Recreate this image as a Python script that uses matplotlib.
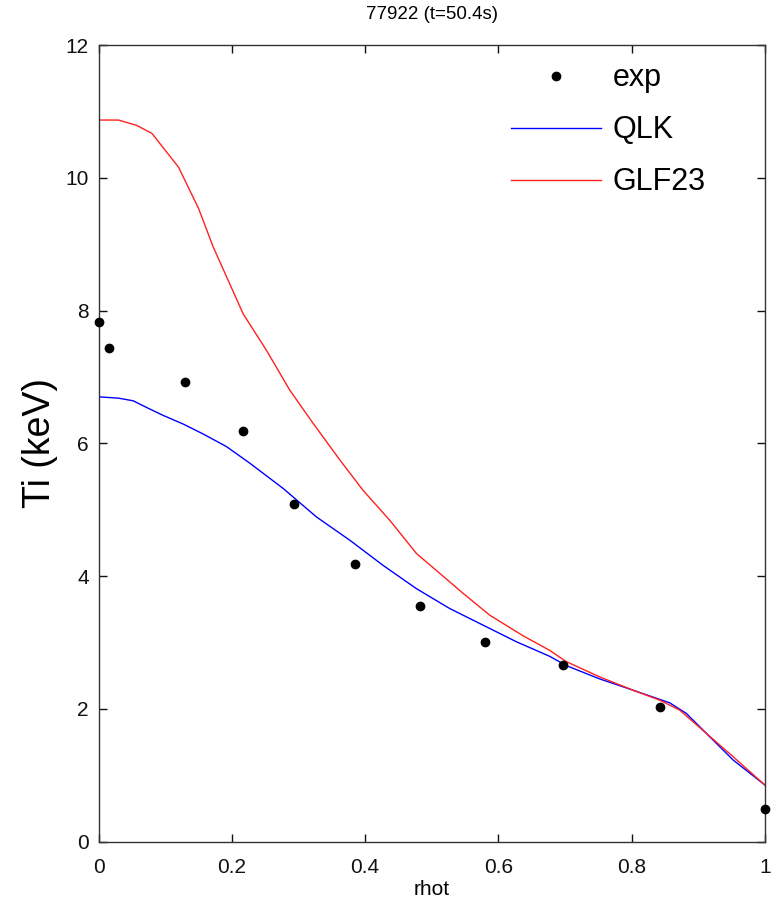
import matplotlib
matplotlib.use("Agg")
import matplotlib.pyplot as plt

plt.rcParams['font.family'] = ['Liberation Sans', 'DejaVu Sans']

# experimental points
exp_rho = [0.0, 0.016, 0.129, 0.217, 0.293, 0.385, 0.482, 0.580, 0.697, 0.843, 1.0]
exp_ti = [7.82, 7.43, 6.93, 6.19, 5.08, 4.18, 3.55, 3.00, 2.66, 2.02, 0.49]

# QLK
qlk_rho = [0.0, 0.03, 0.052, 0.072, 0.097, 0.127, 0.157, 0.192, 0.227, 0.277, 0.327,
           0.377, 0.427, 0.477, 0.527, 0.577, 0.627, 0.677, 0.702, 0.752, 0.802,
           0.857, 0.882, 0.917, 0.952, 1.0]
qlk_ti = [6.70, 6.68, 6.64, 6.54, 6.42, 6.29, 6.14, 5.95, 5.70, 5.32, 4.89,
          4.54, 4.16, 3.81, 3.51, 3.26, 3.01, 2.79, 2.65, 2.45, 2.28,
          2.09, 1.93, 1.58, 1.23, 0.85]

# GLF23
glf_rho = [0.0, 0.03, 0.057, 0.08, 0.12, 0.15, 0.172, 0.217, 0.252, 0.287, 0.322,
           0.362, 0.397, 0.437, 0.477, 0.547, 0.587, 0.637, 0.677, 0.702, 0.752,
           0.802, 0.842, 0.872, 0.912, 0.952, 1.0]
glf_ti = [10.87, 10.87, 10.79, 10.67, 10.16, 9.54, 8.96, 7.95, 7.40, 6.80, 6.30,
          5.75, 5.29, 4.84, 4.34, 3.74, 3.41, 3.10, 2.88, 2.71, 2.48,
          2.28, 2.13, 1.98, 1.63, 1.28, 0.85]

fig = plt.figure(figsize=(7.71, 9.08), dpi=100)
ax = fig.add_axes([0.1278, 0.0732, 0.9922 - 0.1278, 0.9504 - 0.0732])

ax.plot(exp_rho, exp_ti, 'o', color='black', markersize=6, label='exp', clip_on=False, zorder=5)
ax.plot(qlk_rho, qlk_ti, '-', color='#0000ff', lw=1.0, label='QLK')
ax.plot(glf_rho, glf_ti, '-', color='#ff2020', lw=1.0, label='GLF23')

ax.set_xlim(0, 1)
ax.set_ylim(0, 12)
ax.set_xticks([0, 0.2, 0.4, 0.6, 0.8, 1])
ax.set_xticklabels(['0', '0.2', '0.4', '0.6', '0.8', '1'])
ax.set_yticks([0, 2, 4, 6, 8, 10, 12])
ax.tick_params(direction='in', top=True, right=True, length=6, width=1,
               labelsize=15, colors='#111111')
ax.tick_params(axis='x', pad=12)
ax.tick_params(axis='y', pad=7)
for s in ax.spines.values():
    s.set_color('#333333')
    s.set_linewidth(1.0)

ax.set_title('77922 (t=50.4s)', fontsize=13.5, pad=19)
ax.set_xlabel('rhot', fontsize=15, labelpad=2)
ax.set_ylabel('Ti (keV)', fontsize=27, labelpad=5)

leg = ax.legend(loc='upper left', bbox_to_anchor=(0.619, 0.977), frameon=False,
                fontsize=22, handlelength=2.95, labelspacing=0.72, handletextpad=0.38,
                borderpad=0, borderaxespad=0)

fig.savefig('out.png', dpi=100)
